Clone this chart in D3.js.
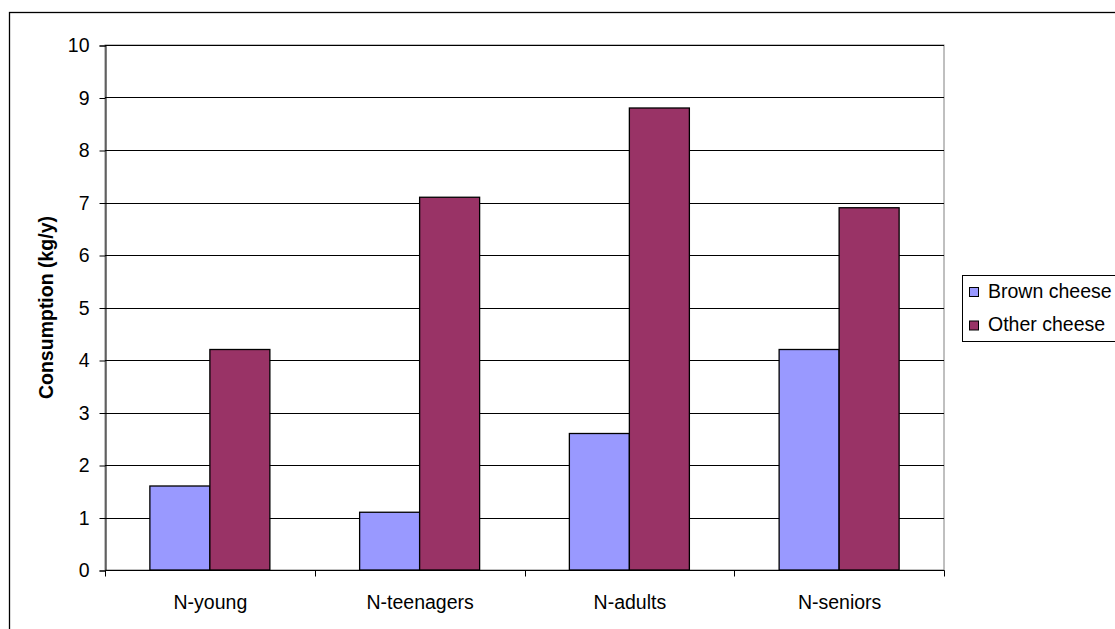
<!DOCTYPE html>
<html>
<head>
<meta charset="utf-8">
<script src="https://cdn.jsdelivr.net/npm/d3@7"></script>
<style>
  html, body { margin: 0; padding: 0; background: #fff; }
  svg { display: block; font-family: "Liberation Sans", Arial, sans-serif; }
</style>
</head>
<body>
<svg id="chart" width="1115" height="629"></svg>
<script>
const categories = ["N-young", "N-teenagers", "N-adults", "N-seniors"];
const seriesNames = ["Brown cheese", "Other cheese"];
const brownCheese = [1.6, 1.1, 2.6, 4.2];
const otherCheese = [4.2, 7.1, 8.8, 6.9];
const yTicks = [0, 1, 2, 3, 4, 5, 6, 7, 8, 9, 10];
const yTitle = "Consumption (kg/y)";
const colors = ["#9999FF", "#993366"];

const seriesValues = [brownCheese, otherCheese];
const svg = d3.select("#chart");
const fontSize = 19.5;

// outer chart border
svg.append("rect").attr("x", 9.5).attr("y", 12.5).attr("width", 1200).attr("height", 700)
  .attr("fill", "#fff").attr("stroke", "#000").attr("stroke-width", 1.3);

const plot = { left: 105, right: 944, top: 45, bottom: 570 };

const x0 = d3.scaleBand().domain(categories).range([plot.left, plot.right]).padding(0);
const groupW = 120;
const x1 = d3.scaleBand().domain(seriesNames)
  .range([x0.bandwidth() / 2 - groupW / 2, x0.bandwidth() / 2 + groupW / 2]).padding(0);
const y = d3.scaleLinear().domain([0, 10]).range([plot.bottom, plot.top]);

// plot area
svg.append("rect").attr("x", plot.left).attr("y", plot.top)
  .attr("width", plot.right - plot.left).attr("height", plot.bottom - plot.top)
  .attr("fill", "#fff").attr("stroke", "#808080").attr("stroke-width", 1);

// gridlines
svg.append("g").selectAll("line").data(yTicks.filter(d => d > 0)).join("line")
  .attr("x1", plot.left).attr("x2", plot.right)
  .attr("y1", d => Math.round(y(d)) + 0.5).attr("y2", d => Math.round(y(d)) + 0.5)
  .attr("stroke", "#000").attr("stroke-width", 1);

// bars
const groups = svg.append("g").selectAll("g").data(categories).join("g")
  .attr("transform", d => `translate(${x0(d)},0)`);
groups.selectAll("rect")
  .data((c, i) => seriesNames.map((s, j) => ({ s, j, v: seriesValues[j][i] })))
  .join("rect")
  .attr("x", d => x1(d.s))
  .attr("y", d => y(d.v))
  .attr("width", x1.bandwidth())
  .attr("height", d => y(0) - y(d.v))
  .attr("fill", d => colors[d.j])
  .attr("stroke", "#000").attr("stroke-width", 1.3);

// y axis
const yAxis = d3.axisLeft(y).tickValues(yTicks).tickSize(6).tickPadding(10).tickFormat(d3.format("d"));
const gy = svg.append("g").attr("transform", `translate(${plot.left + 0.5},0.5)`).call(yAxis);
gy.select(".domain").attr("stroke", "#000");
gy.selectAll(".tick line").attr("stroke", "#000");
gy.selectAll("text").attr("font-size", fontSize).attr("fill", "#000")
  .attr("font-family", "Liberation Sans, Arial, sans-serif");

// x axis
const xTickScale = d3.scaleLinear().domain([0, categories.length]).range([plot.left, plot.right]);
const gx = svg.append("g").attr("transform", `translate(0.5,${plot.bottom + 0.5})`);
gx.append("line").attr("x1", plot.left).attr("x2", plot.right).attr("stroke", "#000");
gx.selectAll("line.t").data(d3.range(categories.length + 1)).join("line").attr("class", "t")
  .attr("x1", d => Math.round(xTickScale(d))).attr("x2", d => Math.round(xTickScale(d)))
  .attr("y1", 0).attr("y2", 6).attr("stroke", "#000");
gx.selectAll("text").data(categories).join("text")
  .attr("x", d => x0(d) + x0.bandwidth() / 2).attr("y", 38)
  .attr("text-anchor", "middle").attr("font-size", fontSize).attr("fill", "#000")
  .text(d => d);

// y title
svg.append("text").attr("transform", `translate(53,${(plot.top + plot.bottom) / 2}) rotate(-90)`)
  .attr("text-anchor", "middle").attr("font-size", fontSize).attr("font-weight", "bold")
  .text(yTitle);

// legend
const lg = svg.append("g");
lg.append("rect").attr("x", 962.5).attr("y", 275.5).attr("width", 200).attr("height", 66)
  .attr("fill", "#fff").attr("stroke", "#000").attr("stroke-width", 1);
const items = lg.selectAll("g").data(seriesNames).join("g")
  .attr("transform", (d, i) => `translate(0,${i * 33.5})`);
items.append("rect").attr("x", 969.5).attr("y", 287.5).attr("width", 9).attr("height", 9)
  .attr("fill", (d, i) => colors[i]).attr("stroke", "#000").attr("stroke-width", 1);
items.append("text").attr("x", 988).attr("y", 297.5).attr("font-size", fontSize)
  .attr("fill", "#000").text(d => d);
</script>
</body>
</html>
